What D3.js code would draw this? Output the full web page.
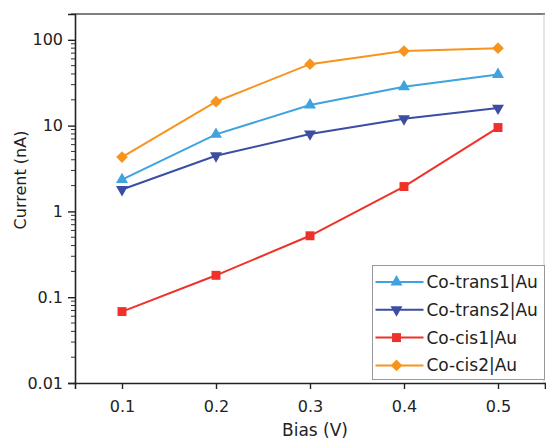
<!DOCTYPE html>
<html>
<head>
<meta charset="utf-8">
<script src="https://cdn.jsdelivr.net/npm/d3@7"></script>
<style>
  body { margin: 0; background: #fff; }
  text { font-family: "DejaVu Sans", sans-serif; fill: #222; }
</style>
</head>
<body>
<script>
var biasValues = [0.1, 0.2, 0.3, 0.4, 0.5];
var seriesNames = ['Co-trans1|Au', 'Co-trans2|Au', 'Co-cis1|Au', 'Co-cis2|Au'];
var coTrans1 = [2.35, 7.9, 17.4, 28.4, 39.5];
var coTrans2 = [1.8, 4.45, 8.0, 12.0, 16.0];
var coCis1 = [0.068, 0.18, 0.52, 1.95, 9.5];
var coCis2 = [4.3, 19, 52, 74, 80];
var yTickLabels = ['0.01', '0.1', '1', '10', '100'];

var width = 546, height = 439;
var margin = {left:75, right:1, top:14, bottom:56};
var w = width - margin.left - margin.right;
var h = height - margin.top - margin.bottom;

var colors = ['#3ea3de', '#3b4ea3', '#ef3229', '#f7941d'];
var symbols = [d3.symbolTriangle, d3.symbolTriangle, d3.symbolSquare, d3.symbolSquare];
var sizes = [62, 62, 80, 68];
var rotations = [0, 180, 0, 45];
var allSeries = [coTrans1, coTrans2, coCis1, coCis2];

var x = d3.scaleLinear().domain([0.05, 0.55]).range([0, w]);
var y = d3.scaleLog().domain([0.01, 200]).range([h, 0]);

var svg = d3.select('body').append('svg').attr('width', width).attr('height', height);
var g = svg.append('g').attr('transform', `translate(${margin.left},${margin.top})`);

// frame (top, right)
g.append('line').attr('x1', 0).attr('x2', w).attr('y1', 0).attr('y2', 0).attr('stroke', '#555').attr('stroke-width', 1.5);
g.append('line').attr('x1', w - 1).attr('x2', w - 1).attr('y1', 0).attr('y2', h).attr('stroke', '#ccc').attr('stroke-width', 1);

// x axis
var xAxis = g.append('g').attr('transform', `translate(0,${h})`)
  .call(d3.axisBottom(x).tickValues(biasValues).tickFormat(d3.format('.1f')).tickSize(6).tickPadding(12));
xAxis.select('.domain').attr('stroke', '#222').attr('stroke-width', 1.6);
xAxis.selectAll('.tick line').attr('stroke', '#222').attr('stroke-width', 1.4);
xAxis.selectAll('text').attr('font-size', 16).attr('font-family', '"DejaVu Sans", sans-serif').attr('fill', '#222');

// y minor ticks
var minor = [];
[0.01, 0.1, 1, 10, 100].forEach(function(d){ for (var k = 2; k <= 9; k++) if (d*k <= 200) minor.push(d*k); });
g.append('g').selectAll('line').data(minor).enter().append('line')
  .attr('x1', -4).attr('x2', 0).attr('y1', d=>y(d)).attr('y2', d=>y(d))
  .attr('stroke', '#333').attr('stroke-width', 1);

// y axis
var yAxis = g.append('g')
  .call(d3.axisLeft(y).tickValues([0.01, 0.1, 1, 10, 100]).tickFormat((d,i)=>yTickLabels[i]).tickSize(7).tickPadding(5));
yAxis.select('.domain').attr('stroke', '#222').attr('stroke-width', 1.6);
yAxis.selectAll('.tick line').attr('stroke', '#222').attr('stroke-width', 1.4);
yAxis.selectAll('text').attr('font-size', 16).attr('font-family', '"DejaVu Sans", sans-serif').attr('fill', '#222');

// labels
svg.append('text').attr('x', 315).attr('y', 436).attr('text-anchor', 'middle').attr('font-size', 17).text('Bias (V)');
svg.append('text').attr('transform', 'translate(26,180) rotate(-90)').attr('text-anchor', 'middle').attr('font-size', 16).text('Current (nA)');

var line = d3.line().x((d,i)=>x(biasValues[i])).y(d=>y(d));

allSeries.forEach(function(vals, s){
  var sg = g.append('g');
  sg.append('path').attr('d', line(vals)).attr('fill', 'none').attr('stroke', colors[s]).attr('stroke-width', 2);
  sg.selectAll('path.pt').data(vals).enter().append('path').attr('class', 'pt')
    .attr('d', d3.symbol().type(symbols[s]).size(sizes[s]))
    .attr('transform', (d,i)=>`translate(${x(biasValues[i])},${y(d)}) rotate(${rotations[s]})`)
    .attr('fill', colors[s]);
});

// legend
var lg = svg.append('g').attr('transform', 'translate(372.5,265.5)');
lg.append('rect').attr('x', 0).attr('y', 0).attr('width', 172).attr('height', 114)
  .attr('fill', '#fff').attr('stroke', '#999').attr('stroke-width', 1);
seriesNames.forEach(function(name, s){
  var ly = 16.5 + s * 27.8;
  lg.append('line').attr('x1', 3).attr('x2', 51).attr('y1', ly).attr('y2', ly).attr('stroke', colors[s]).attr('stroke-width', 2);
  lg.append('path').attr('d', d3.symbol().type(symbols[s]).size(sizes[s])())
    .attr('transform', `translate(24,${ly}) rotate(${rotations[s]})`).attr('fill', colors[s]);
  lg.append('text').attr('x', 54).attr('y', ly + 6).attr('font-size', 17).text(name);
});
</script>
</body>
</html>
